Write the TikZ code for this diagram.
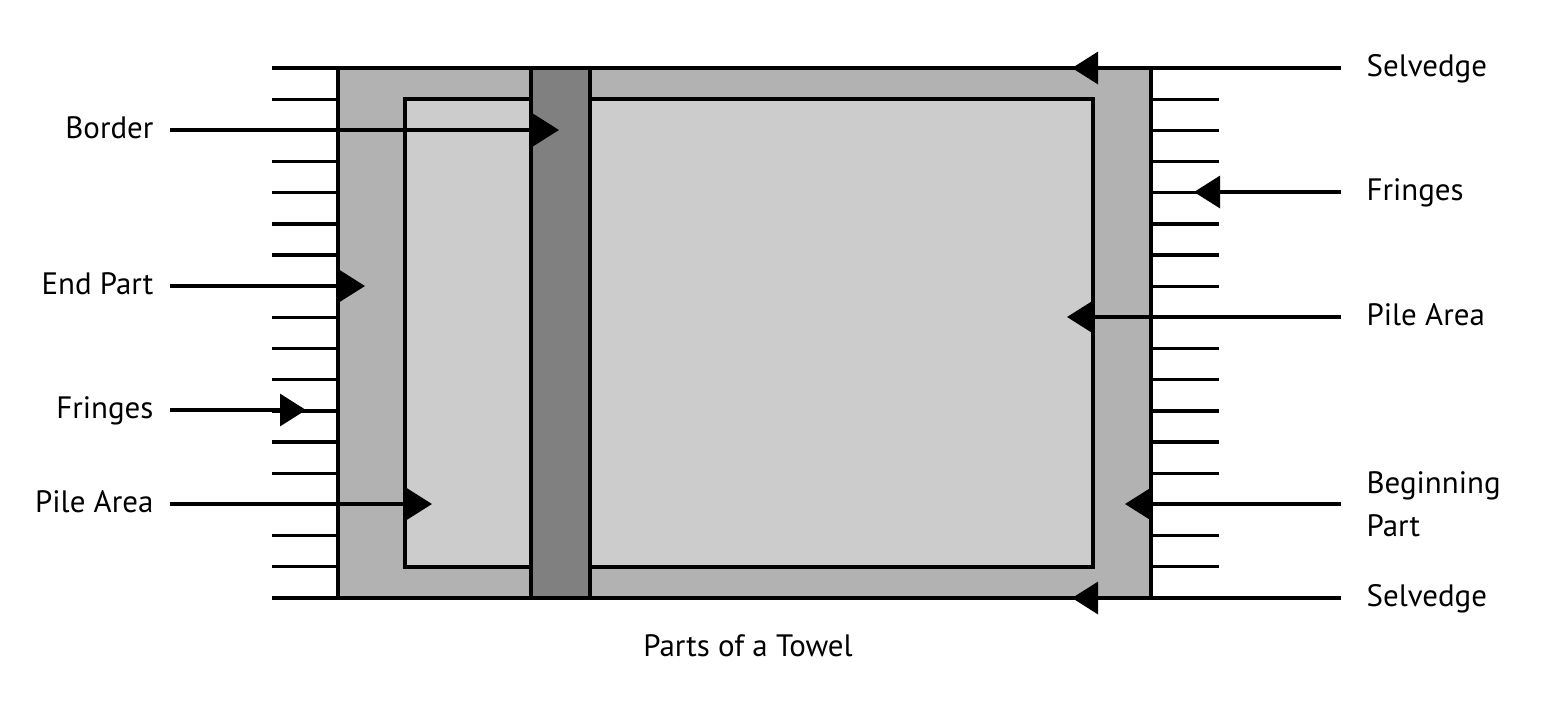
\documentclass[tikz,border=0pt]{standalone}
\usepackage{fontspec}
\setmainfont{PT Sans}
\usetikzlibrary{arrows.meta}
\definecolor{bandgray}{gray}{0.70}
\definecolor{pilegray}{gray}{0.80}
\definecolor{stripgray}{gray}{0.50}
\tikzset{
  lbl/.style={font=\fontsize{17.6}{24.5}\selectfont, inner ysep=0pt, text height=0.95em, text depth=0pt},
  leftlbl/.style={lbl, anchor=east, inner xsep=0.3cm},
  rightlbl/.style={lbl, anchor=west, inner xsep=0.48cm},
  pointer/.style={-{Triangle[length=0.52cm,width=0.64cm]}}
}
\begin{document}
\begin{tikzpicture}[x=0.02cm,y=-0.02cm,line width=0.065cm]
      \useasboundingbox (0,0) rectangle (1549,708);
      \fill[bandgray] (338,68) rectangle (1151,598);
      \draw[fill=pilegray] (405,99) rectangle (1093,567);
      \draw[fill=stripgray] (531,68) rectangle (590,598);
      \draw (338,68) rectangle (1151,598);
      \foreach \i in {0,...,17}{
        \draw (272,68+31.176*\i) -- (338,68+31.176*\i);
        \draw (1151,68+31.176*\i) -- (1219,68+31.176*\i);
      }
      \node[leftlbl] (border) at (170,130) {Border};
      \node[leftlbl] (endpart) at (170,286) {End Part};
      \node[leftlbl] (lfringes) at (170,410) {Fringes};
      \node[leftlbl] (lpile) at (170,504) {Pile Area};
      \node[rightlbl] (topsel) at (1341,68) {Selvedge};
      \node[rightlbl] (rfringes) at (1341,192) {Fringes};
      \node[rightlbl] (rpile) at (1341,317) {Pile Area};
      \node[rightlbl, align=left, text height=, text depth=] (begpart) at (1341,504) {Beginning\\Part};
      \node[rightlbl] (botsel) at (1341,598) {Selvedge};
      \node[lbl] (caption) at (748,648) {Parts of a Towel};
      \coordinate (bordertip) at (559,130);
      \coordinate (endparttip) at (365,286);
      \coordinate (lfringetip) at (306,410);
      \coordinate (lpiletip) at (432,504);
      \coordinate (topseltip) at (1072,68);
      \coordinate (rfringetip) at (1194,192);
      \coordinate (rpiletip) at (1067,317);
      \coordinate (begparttip) at (1125,504);
      \coordinate (botseltip) at (1072,598);
      \begin{scope}[pointer]
        \draw (border) to (bordertip);
        \draw (endpart) to (endparttip);
        \draw (lfringes) to (lfringetip);
        \draw (lpile) to (lpiletip);
        \draw (topsel) to (topseltip);
        \draw (rfringes) to (rfringetip);
        \draw (rpile) to (rpiletip);
        \draw (begpart) to (begparttip);
        \draw (botsel) to (botseltip);
      \end{scope}
    \end{tikzpicture}
\end{document}
